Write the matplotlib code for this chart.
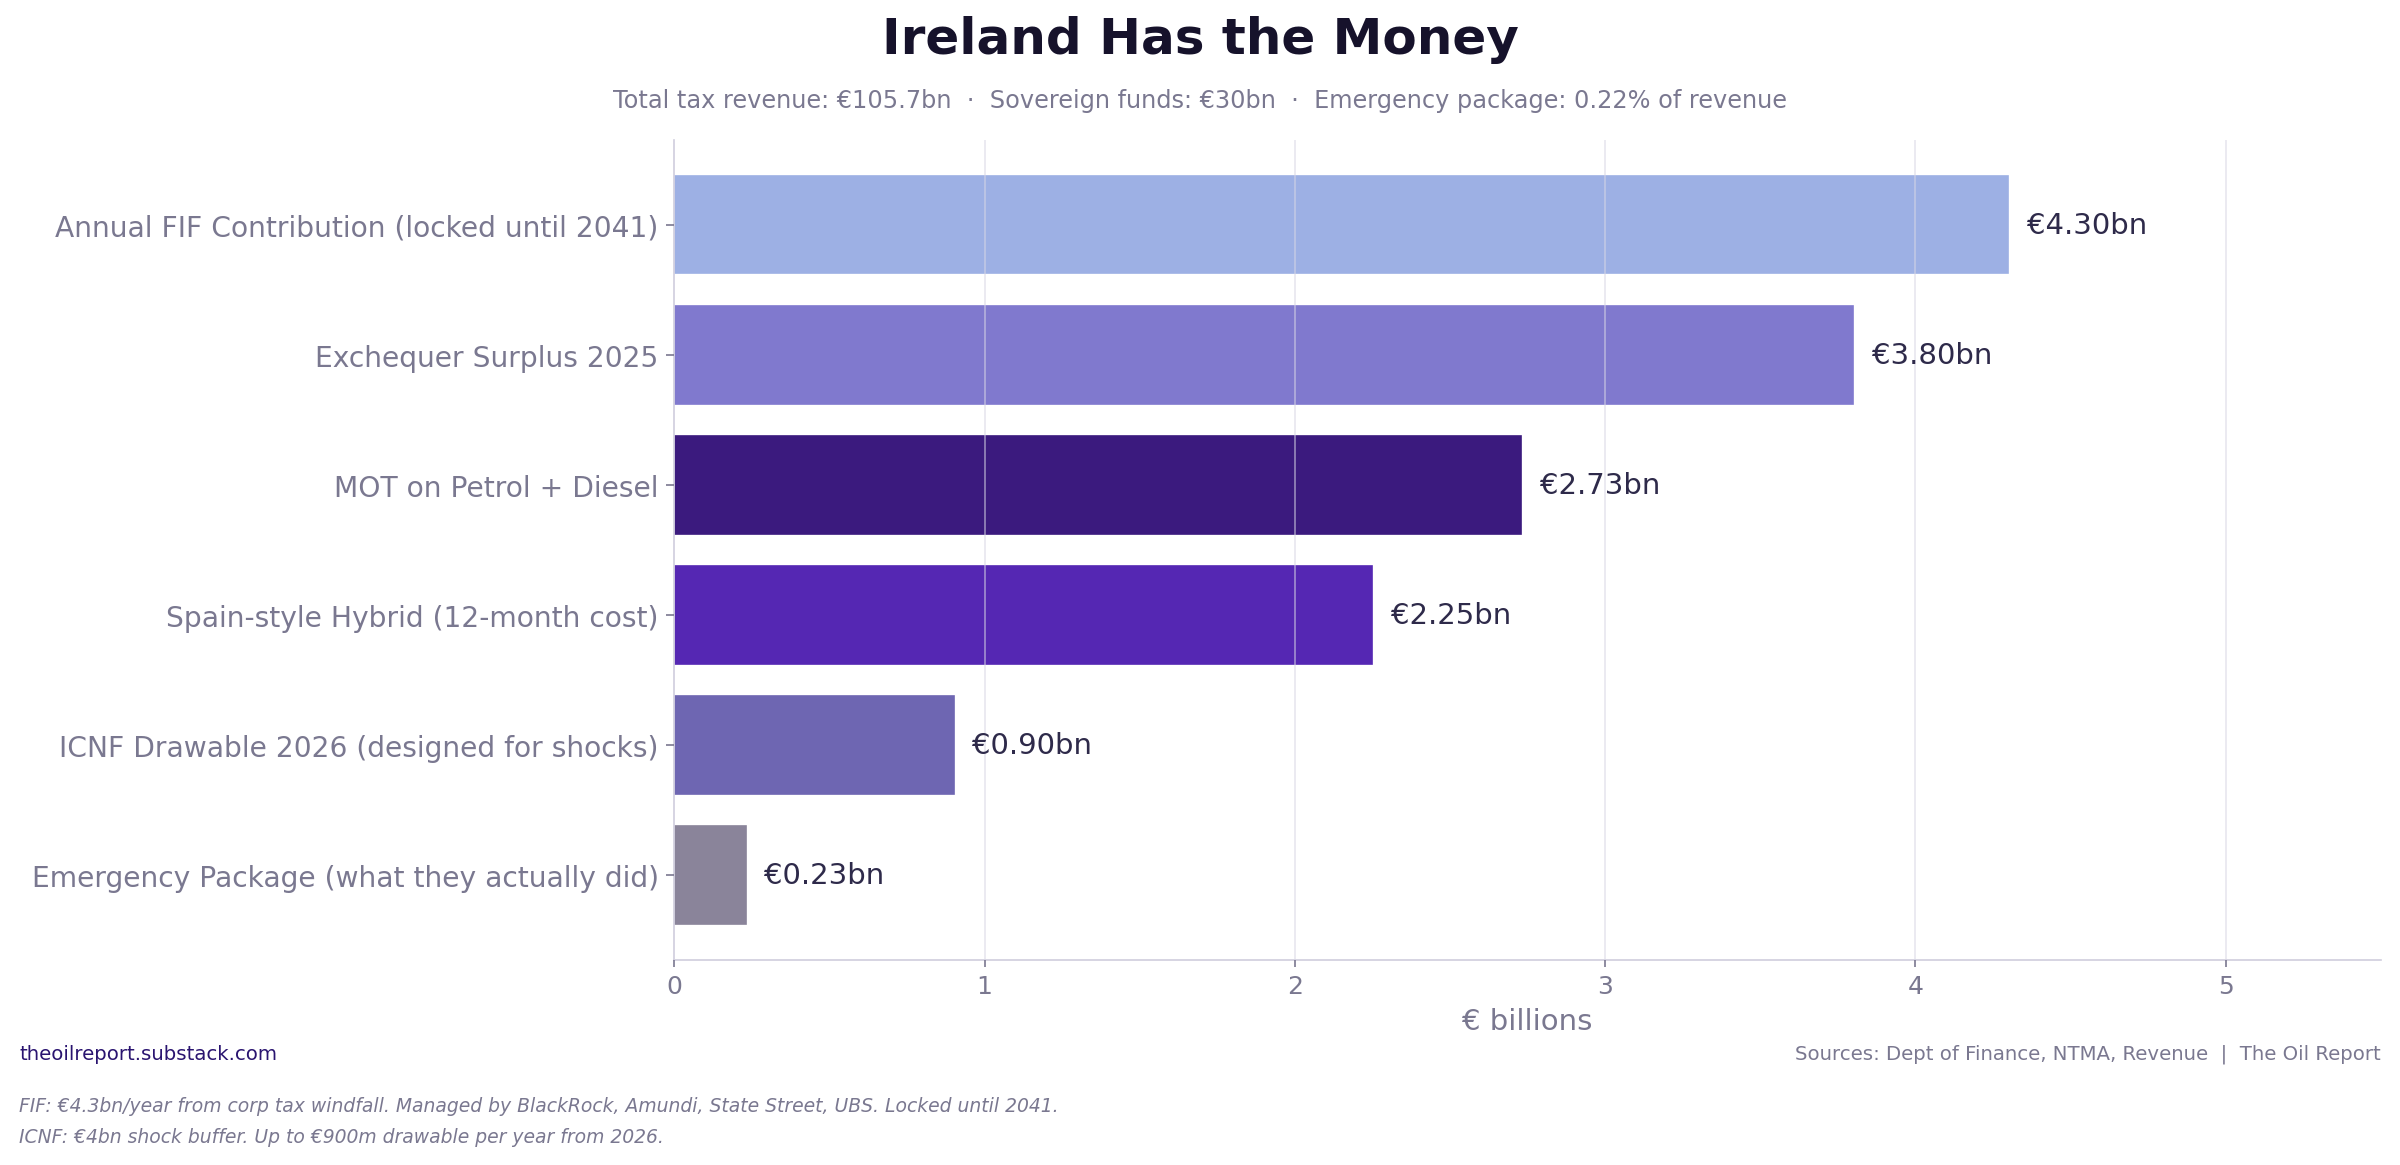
import matplotlib.pyplot as plt

labels = ["Annual FIF Contribution (locked until 2041)", "Exchequer Surplus 2025",
          "MOT on Petrol + Diesel", "Spain-style Hybrid (12-month cost)",
          "ICNF Drawable 2026 (designed for shocks)", "Emergency Package (what they actually did)"]
values = [4.30, 3.80, 2.73, 2.25, 0.90, 0.23]
colors = ["#9DB0E4", "#8079CE", "#3B1A7E", "#5527B3", "#6E66B2", "#8A849A"]

fig = plt.figure(figsize=(16, 7.773), dpi=150)
ax = fig.add_axes([0.281, 0.176, 0.711, 0.703])
ys = list(range(len(values)))[::-1]
ax.barh(ys, values, height=0.75, color=colors, edgecolor=colors, linewidth=0.8, zorder=2)
for y, v in zip(ys, values):
    ax.text(v + 0.06, y, f"€{v:.2f}bn", va="center", ha="left", fontsize=14, color="#2E2A4A")
ax.set_yticks(ys)
ax.set_yticklabels(labels, fontsize=13.5, color="#2E2A4A")
ax.set_xlim(0, 5.5)
ax.set_ylim(-0.65, 5.65)
ax.set_xticks(range(6))
ax.tick_params(axis="x", labelsize=12, colors="#7A7890")
ax.tick_params(axis="y", colors="#7A7890", length=4)
ax.set_xlabel("€ billions", fontsize=14, color="#7A7890")
ax.grid(axis="x", color="#D8D6E4", alpha=0.6, linewidth=0.8, zorder=3)
ax.set_axisbelow(False)
for s in ["top", "right"]:
    ax.spines[s].set_visible(False)
for s in ["left", "bottom"]:
    ax.spines[s].set_color("#CFCDDD")

fig.text(0.5, 0.966, "Ireland Has the Money", ha="center", va="center",
         fontsize=24, fontweight="bold", color="#16122B")
fig.text(0.5, 0.913, "Total tax revenue: €105.7bn  ·  Sovereign funds: €30bn  ·  Emergency package: 0.22% of revenue",
         ha="center", va="center", fontsize=11.5, color="#7A7890")
fig.text(0.008, 0.096, "theoilreport.substack.com", ha="left", va="center", fontsize=9.5, color="#2A1470")
fig.text(0.992, 0.096, "Sources: Dept of Finance, NTMA, Revenue  |  The Oil Report", ha="right", va="center",
         fontsize=9.5, color="#7A7890")
fig.text(0.008, 0.051, "FIF: €4.3bn/year from corp tax windfall. Managed by BlackRock, Amundi, State Street, UBS. Locked until 2041.",
         ha="left", va="center", fontsize=9, style="italic", color="#7A7890")
fig.text(0.008, 0.024, "ICNF: €4bn shock buffer. Up to €900m drawable per year from 2026.",
         ha="left", va="center", fontsize=9, style="italic", color="#7A7890")

fig.savefig("out.png")
